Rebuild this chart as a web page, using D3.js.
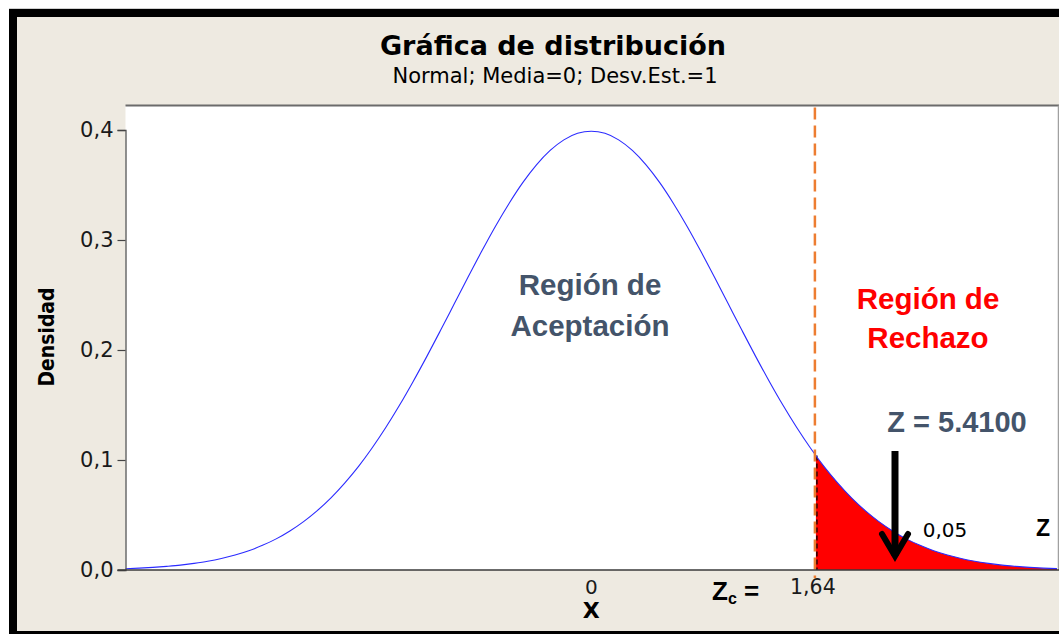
<!DOCTYPE html>
<html>
<head>
<meta charset="utf-8">
<script src="https://cdn.jsdelivr.net/npm/d3@7/dist/d3.min.js"></script>
<style>
  html, body { margin: 0; padding: 0; background: #ffffff; }
  svg { display: block; }
</style>
</head>
<body>
<svg id="chart" width="1059" height="634"></svg>
<script>
// Standard normal density, tabulated every 0.1 from -3.4 to 3.4
const zValues = [
  -3.4, -3.3, -3.2, -3.1, -3.0, -2.9, -2.8, -2.7, -2.6, -2.5, -2.4, -2.3, -2.2, -2.1, -2.0,
  -1.9, -1.8, -1.7, -1.6, -1.5, -1.4, -1.3, -1.2, -1.1, -1.0, -0.9, -0.8, -0.7, -0.6, -0.5,
  -0.4, -0.3, -0.2, -0.1, 0.0, 0.1, 0.2, 0.3, 0.4, 0.5, 0.6, 0.7, 0.8, 0.9, 1.0,
  1.1, 1.2, 1.3, 1.4, 1.5, 1.6, 1.7, 1.8, 1.9, 2.0, 2.1, 2.2, 2.3, 2.4, 2.5,
  2.6, 2.7, 2.8, 2.9, 3.0, 3.1, 3.2, 3.3, 3.4
];
const densityValues = [
  0.0012, 0.0017, 0.0024, 0.0033, 0.0044, 0.0060, 0.0079, 0.0104, 0.0136, 0.0175, 0.0224, 0.0283, 0.0355, 0.0440, 0.0540,
  0.0656, 0.0790, 0.0940, 0.1109, 0.1295, 0.1497, 0.1714, 0.1942, 0.2179, 0.2420, 0.2661, 0.2897, 0.3123, 0.3332, 0.3521,
  0.3683, 0.3814, 0.3910, 0.3970, 0.3989, 0.3970, 0.3910, 0.3814, 0.3683, 0.3521, 0.3332, 0.3123, 0.2897, 0.2661, 0.2420,
  0.2179, 0.1942, 0.1714, 0.1497, 0.1295, 0.1109, 0.0940, 0.0790, 0.0656, 0.0540, 0.0440, 0.0355, 0.0283, 0.0224, 0.0175,
  0.0136, 0.0104, 0.0079, 0.0060, 0.0044, 0.0033, 0.0024, 0.0017, 0.0012
];
const yTicks = [0.0, 0.1, 0.2, 0.3, 0.4];
const criticalZ = 1.64;
const criticalLabel = "1,64";
const alphaLabel = "0,05";
const statLabel = "Z = 5.4100";

const points = zValues.map((z, i) => ({ z, d: densityValues[i] }));

const W = 1059, H = 634;
const plot = { left: 125.5, right: 1057, top: 105.5, bottom: 570 };

const svg = d3.select("#chart");
const beige = "#EEEAE1";
const slate = "#44546A";
const tahoma = "'DejaVu Sans', Verdana, sans-serif";
const arial = "'Liberation Sans', Arial, sans-serif";

// Frame and background
svg.append("rect").attr("x", 0).attr("y", 0).attr("width", W).attr("height", H).attr("fill", "#ffffff");
svg.append("line").attr("x1", 9).attr("x2", W).attr("y1", 8.5).attr("y2", 8.5).attr("stroke", "#d0d0d0");
svg.append("rect").attr("x", 9).attr("y", 9).attr("width", W - 9).attr("height", H - 9).attr("fill", beige);
svg.append("rect").attr("x", 9).attr("y", 9).attr("width", W - 9).attr("height", 8).attr("fill", "#000");
svg.append("rect").attr("x", 9).attr("y", 9).attr("width", 8).attr("height", H - 9).attr("fill", "#000");
svg.append("rect").attr("x", 9).attr("y", 631).attr("width", W - 9).attr("height", 3).attr("fill", "#000");

// Scales
const x = d3.scaleLinear().domain([-3.4, 3.4]).range([plot.left, plot.right]);
const y = d3.scaleLinear().domain([0, 0.4]).range([plot.bottom, plot.bottom - 440]);

// Plot panel
svg.append("rect")
  .attr("x", plot.left).attr("y", plot.top)
  .attr("width", plot.right - plot.left + 1).attr("height", plot.bottom - plot.top)
  .attr("fill", "#ffffff");
svg.append("line").attr("x1", plot.left).attr("x2", W).attr("y1", plot.top).attr("y2", plot.top)
  .attr("stroke", "#6b6b6b").attr("stroke-width", 2);
svg.append("line").attr("x1", plot.right + 1.5).attr("x2", plot.right + 1.5).attr("y1", plot.top).attr("y2", plot.bottom)
  .attr("stroke", "#a0a0a0").attr("stroke-width", 1.5);

// Rejection region (upper tail)
svg.append("clipPath").attr("id", "tail")
  .append("rect")
  .attr("x", x(criticalZ)).attr("y", plot.top)
  .attr("width", plot.right - x(criticalZ)).attr("height", plot.bottom - plot.top);

const area = d3.area()
  .x(p => x(p.z)).y0(y(0)).y1(p => y(p.d))
  .curve(d3.curveMonotoneX);
svg.append("path")
  .datum(points)
  .attr("clip-path", "url(#tail)")
  .attr("d", area)
  .attr("fill", "#ff0000");

// Black dashed edge of the tail
const tailTop = d3.scaleLinear().domain(zValues).range(densityValues);
svg.append("line")
  .attr("x1", x(criticalZ) + 1).attr("x2", x(criticalZ) + 1)
  .attr("y1", y(tailTop(criticalZ))).attr("y2", y(0))
  .attr("stroke", "#000").attr("stroke-width", 1.3).attr("stroke-dasharray", "5,3");

// Density curve
const line = d3.line().x(p => x(p.z)).y(p => y(p.d)).curve(d3.curveMonotoneX);
svg.append("path")
  .datum(points)
  .attr("d", line)
  .attr("fill", "none")
  .attr("stroke", "#2b2bff")
  .attr("stroke-width", 1.1);

// Critical value reference line
svg.append("line")
  .attr("x1", x(criticalZ) - 1).attr("x2", x(criticalZ) - 1)
  .attr("y1", plot.top + 2).attr("y2", plot.bottom + 8)
  .attr("stroke", "#ED7D31").attr("stroke-width", 2.5).attr("stroke-dasharray", "12,6");

// Y axis
const yAxis = d3.axisLeft(y)
  .tickValues(yTicks)
  .tickSize(8)
  .tickPadding(4)
  .tickFormat(d => d3.format(".1f")(d).replace(".", ","));
const gy = svg.append("g")
  .attr("transform", `translate(${plot.left},0)`)
  .call(yAxis);
gy.select(".domain").attr("stroke", "#555").attr("stroke-width", 1.3);
gy.selectAll(".tick line").attr("stroke", "#444").attr("stroke-width", 1.2);
gy.selectAll(".tick text")
  .attr("font-family", tahoma).attr("font-size", 21).attr("fill", "#1a1a1a");

// X axis baseline and labels
svg.append("line")
  .attr("x1", plot.left - 8).attr("x2", W).attr("y1", plot.bottom).attr("y2", plot.bottom)
  .attr("stroke", "#3a3a3a").attr("stroke-width", 1.5);
svg.append("text").attr("x", x(0)).attr("y", 594)
  .attr("text-anchor", "middle").attr("font-family", tahoma).attr("font-size", 20).attr("fill", "#1a1a1a")
  .text("0");
svg.append("text").attr("x", x(criticalZ) - 3).attr("y", 594)
  .attr("text-anchor", "middle").attr("font-family", tahoma).attr("font-size", 20.5).attr("fill", "#1a1a1a")
  .text(criticalLabel);
svg.append("text").attr("x", x(0)).attr("y", 618)
  .attr("text-anchor", "middle").attr("font-family", tahoma).attr("font-weight", "bold").attr("font-size", 22).attr("fill", "#000")
  .text("X");

// Z_c label
const zc = svg.append("text").attr("x", 712).attr("y", 600)
  .attr("font-family", arial).attr("font-weight", "bold").attr("font-size", 26).attr("fill", "#000");
zc.append("tspan").text("Z");
zc.append("tspan").attr("font-size", 16).attr("dy", 4).text("c");
zc.append("tspan").attr("dy", -4).text(" =");

// Y axis title
svg.append("text")
  .attr("transform", "translate(54,337) rotate(-90)")
  .attr("text-anchor", "middle")
  .attr("font-family", tahoma).attr("font-weight", "bold").attr("font-size", 21)
  .attr("textLength", 99).attr("lengthAdjust", "spacingAndGlyphs")
  .attr("fill", "#000")
  .text("Densidad");

// Titles
svg.append("text").attr("x", 553).attr("y", 55)
  .attr("text-anchor", "middle").attr("font-family", tahoma).attr("font-weight", "bold").attr("font-size", 27)
  .attr("fill", "#000").text("Gráfica de distribución");
svg.append("text").attr("x", 555).attr("y", 83)
  .attr("text-anchor", "middle").attr("font-family", tahoma).attr("font-size", 21)
  .attr("fill", "#000").text("Normal; Media=0; Desv.Est.=1");

// Region annotations
function block(lines, cx, y0, dy, color) {
  lines.forEach((t, i) => {
    svg.append("text").attr("x", cx).attr("y", y0 + i * dy)
      .attr("text-anchor", "middle").attr("font-family", arial).attr("font-weight", "bold")
      .attr("font-size", 29.5).attr("fill", color).text(t);
  });
}
block(["Región de", "Aceptación"], 590, 295, 41, slate);
block(["Región de", "Rechazo"], 928, 309, 39, "#ff0000");

svg.append("text").attr("x", 957).attr("y", 432)
  .attr("text-anchor", "middle").attr("font-family", arial).attr("font-weight", "bold")
  .attr("font-size", 29).attr("fill", slate).text(statLabel);

// Arrow pointing into the rejection region
svg.append("line").attr("x1", 895).attr("x2", 895).attr("y1", 451).attr("y2", 556)
  .attr("stroke", "#000").attr("stroke-width", 7);
svg.append("path").attr("d", "M882,534 L895,556 L908,534")
  .attr("fill", "none").attr("stroke", "#000").attr("stroke-width", 6)
  .attr("stroke-linecap", "round").attr("stroke-linejoin", "miter");

svg.append("text").attr("x", 945).attr("y", 537)
  .attr("text-anchor", "middle").attr("font-family", tahoma).attr("font-size", 20)
  .attr("fill", "#000").text(alphaLabel);
svg.append("text").attr("x", 1043).attr("y", 536)
  .attr("text-anchor", "middle").attr("font-family", arial).attr("font-weight", "bold")
  .attr("font-size", 23).attr("fill", "#000").text("Z");
</script>
</body>
</html>
